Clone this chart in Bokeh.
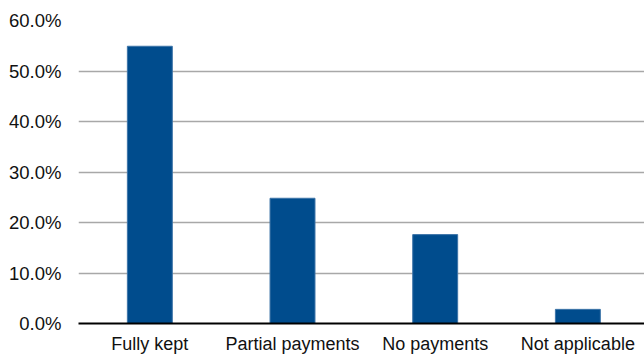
from bokeh.plotting import figure
from bokeh.models import Range1d, FixedTicker, NumeralTickFormatter, ColumnDataSource
from bokeh.embed import file_html
from bokeh.resources import INLINE

categories = ["Fully kept", "Partial payments", "No payments", "Not applicable"]
values = [0.549, 0.248, 0.176, 0.028]
y_ticks = [0.0, 0.1, 0.2, 0.3, 0.4, 0.5, 0.6]

positions = list(range(len(categories)))
src = ColumnDataSource(dict(x=positions, top=values))

p = figure(width=644, height=356, output_backend="svg", toolbar_location=None,
           x_range=Range1d(-0.5, 3.467), y_range=Range1d(0, 0.6),
           min_border_left=78, min_border_right=0, min_border_top=20, min_border_bottom=31)
p.outline_line_color = None
p.background_fill_color = "white"
p.border_fill_color = "white"

p.vbar(x="x", top="top", width=0.315, source=src, fill_color="#004C8D",
       line_color="#3D74A8", line_width=1)

font = "Liberation Sans"
p.xgrid.visible = False
p.ygrid.grid_line_color = "#A8A8A8"
p.ygrid.grid_line_width = 1.3
p.ygrid.ticker = FixedTicker(ticks=y_ticks[1:])

p.yaxis.ticker = FixedTicker(ticks=y_ticks)
p.yaxis.formatter = NumeralTickFormatter(format="0.0%")
p.yaxis.axis_line_color = None
p.yaxis.major_tick_line_color = None
p.yaxis.minor_tick_line_color = None
p.yaxis.major_tick_out = 0
p.yaxis.major_tick_in = 0
p.yaxis.major_label_standoff = 17
p.yaxis.major_label_text_font = font
p.yaxis.major_label_text_font_size = "18.5px"
p.yaxis.major_label_text_color = "#111111"

p.xaxis.ticker = FixedTicker(ticks=positions)
p.xaxis.major_label_overrides = {i: c for i, c in zip(positions, categories)}
p.xaxis.axis_line_color = "black"
p.xaxis.axis_line_width = 2
p.xaxis.major_tick_line_color = None
p.xaxis.minor_tick_line_color = None
p.xaxis.major_tick_out = 0
p.xaxis.major_tick_in = 0
p.xaxis.major_label_standoff = 10
p.xaxis.major_label_text_font = font
p.xaxis.major_label_text_font_size = "18px"
p.xaxis.major_label_text_color = "#111111"

open("out.html", "w").write(file_html(p, INLINE))
